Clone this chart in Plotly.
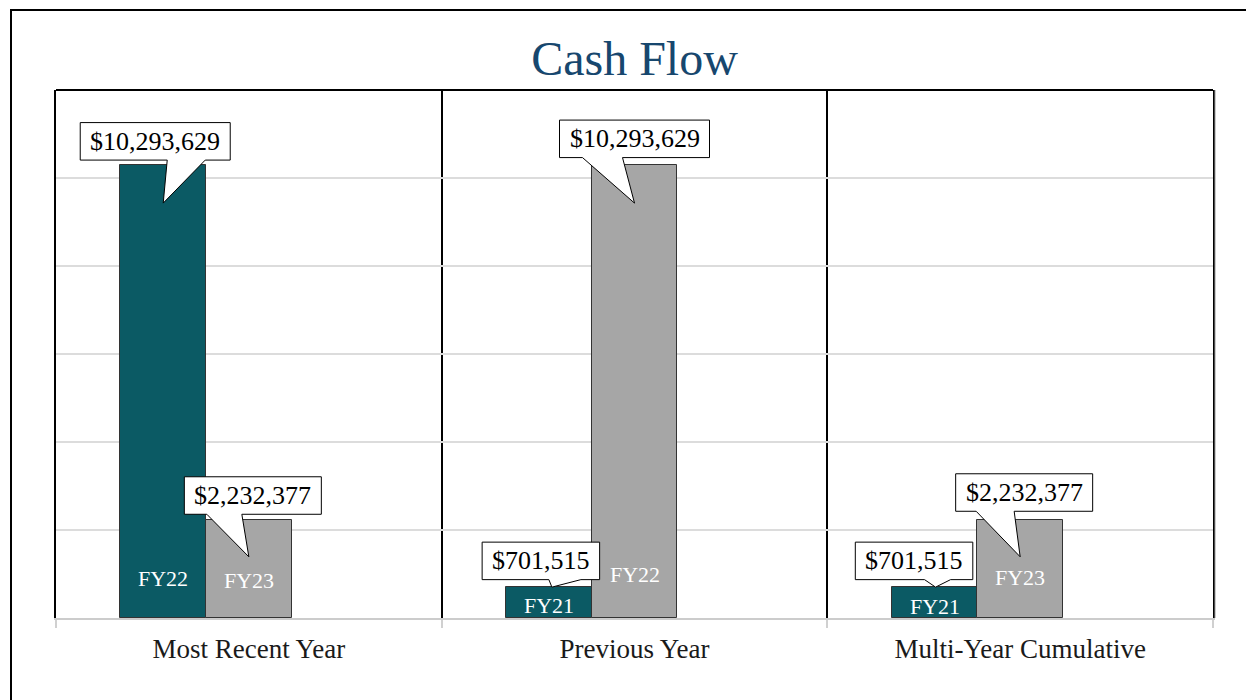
import plotly.graph_objects as go

# ---------------- data ----------------
categories = ["Most Recent Year", "Previous Year", "Multi-Year Cumulative"]
first_values = [10293629, 701515, 701515]
first_labels = ["FY22", "FY21", "FY21"]
second_values = [2232377, 10293629, 2232377]
second_labels = ["FY23", "FY22", "FY23"]

# ---------------- style ----------------
TEAL = "#0b5a64"
GREY = "#a6a6a6"
FONT = "Liberation Serif"
BAR_W = 0.222
OFFSETS = [-0.333, -0.111]          # bar left edge relative to category centre
CALLOUT_H = 37.5
CALLOUT_FONT = 26
# per-callout styling in px relative to the bar's top centre:
# (box centre dx, box bottom dy, tail left x, tail right x, tip x, tip y)
first_callouts = [(-8, 5, 4, 42, 0, -38), (-8, 7.5, 0, 32, 3, 0), (-20.5, 7.5, -10, 16, 1, 0)]
second_callouts = [(4, 5.5, -42, -7, 0, -37), (0, 7.5, -52, -12, 0, -38), (4, 8.5, -44, -6, 0, -37)]
first_lift = [40, 12.5, 12]
second_lift = [38, 43.5, 41]

CHAR_W = {"$": 0.5, ",": 0.25}


def text_width(s, size):
    return sum(CHAR_W.get(c, 0.5) for c in s) * size


fig = go.Figure()
series = [
    (first_values, first_labels, TEAL, OFFSETS[0], first_callouts, first_lift),
    (second_values, second_labels, GREY, OFFSETS[1], second_callouts, second_lift),
]

shapes = []
annotations = []
for values, labels, color, off, callouts, lifts in series:
    fig.add_bar(
        x=categories, y=values, width=BAR_W, offset=off,
        marker=dict(color=color, line=dict(color="#333333", width=1)),
        showlegend=False, hoverinfo="skip",
    )
    for i, (v, lab) in enumerate(zip(values, labels)):
        xc = i + off + BAR_W / 2
        txt = f"${v:,}"
        w = text_width(txt, CALLOUT_FONT) + 20
        cdx, bdy, tl, tr, tx, ty = callouts[i]
        l, r = cdx - w / 2, cdx + w / 2
        b, t = bdy, bdy + CALLOUT_H
        path = (f"M {l},{b} L {l},{t} L {r},{t} L {r},{b} L {tr},{b} "
                f"L {tx},{ty} L {tl},{b} Z")
        shapes.append(dict(
            type="path", xref="x", yref="y", xsizemode="pixel", ysizemode="pixel",
            xanchor=xc, yanchor=v, path=path, fillcolor="white",
            line=dict(color="black", width=1), layer="above",
        ))
        annotations.append(dict(
            x=xc, y=v, xref="x", yref="y", text=txt, showarrow=False,
            xshift=cdx, yshift=bdy + CALLOUT_H / 2, xanchor="center", yanchor="middle",
            font=dict(family=FONT, size=CALLOUT_FONT, color="black"),
        ))
        annotations.append(dict(
            x=xc, y=0, xref="x", yref="y", text=lab, showarrow=False,
            yshift=lifts[i], xanchor="center", yanchor="middle",
            font=dict(family=FONT, size=22, color="white"),
        ))

# plot-area top border
shapes.append(dict(type="line", xref="paper", yref="paper", x0=0, x1=1, y0=1, y1=1,
                   line=dict(color="black", width=2), layer="above"))
# faint shadow right of the plot area
shapes.append(dict(type="line", xref="paper", yref="paper", xsizemode="pixel",
                   xanchor=1, x0=2, x1=2, y0=0, y1=1,
                   line=dict(color="#9a9a9a", width=1), layer="above"))
# outer chart border (extends past the window at right/bottom)
shapes.append(dict(type="rect", xref="paper", yref="paper", xsizemode="pixel", ysizemode="pixel",
                   xanchor=0, yanchor=1, x0=-45, x1=1400, y0=80, y1=-800,
                   line=dict(color="black", width=2), fillcolor="rgba(0,0,0,0)", layer="above"))

fig.update_layout(
    width=1246, height=692,
    margin=dict(l=48, r=41, t=82, b=82),
    paper_bgcolor="white", plot_bgcolor="white",
    title=dict(text="Cash Flow", x=0.5, xref="paper", y=1 - 50 / 692, yref="container",
               xanchor="center", yanchor="middle",
               font=dict(family=FONT, size=48, color="#17476e")),
    font=dict(family=FONT),
    shapes=shapes, annotations=annotations,
    bargap=0,
)
fig.update_xaxes(
    type="category", range=[-0.5, 2.5], tickson="boundaries",
    ticks="outside", ticklen=8, tickcolor="#d0d0d0", tickwidth=1.5,
    showline=True, linecolor="#cccccc", linewidth=2,
    showgrid=True, gridcolor="black", gridwidth=1.5,
    tickfont=dict(family=FONT, size=27, color="#1a1a1a"),
    ticklabelstandoff=6,
)
fig.update_yaxes(
    range=[0, 12e6], dtick=2e6, showticklabels=False, ticks="",
    showgrid=True, gridcolor="#dcdcdc", gridwidth=2, zeroline=False,
    showline=True, mirror=True, linecolor="black", linewidth=2,
)

fig.write_html("out.html")
